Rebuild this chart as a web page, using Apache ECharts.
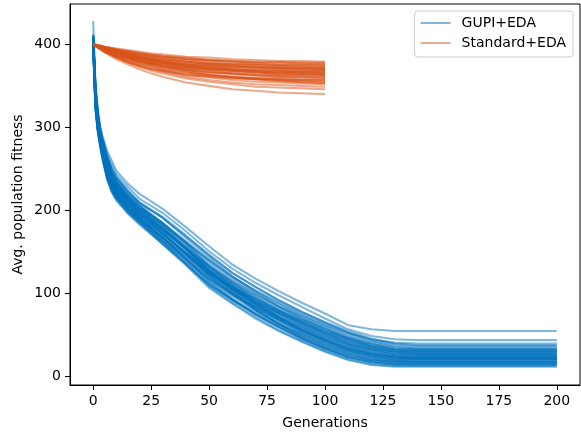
<!DOCTYPE html>
<html>
<head>
<meta charset="utf-8">
<script src="https://cdn.jsdelivr.net/npm/echarts@6/dist/echarts.min.js"></script>
<style>
  html, body { margin: 0; padding: 0; background: #fff; }
  #chart { width: 581px; height: 432px; }
</style>
</head>
<body>
<div id="chart"></div>
<script>
// Generations at which each GUPI+EDA run is sampled
const gupiGenerations = [0, 1, 2, 3, 4, 6, 8, 10, 15, 20, 30, 40, 50, 60, 70, 80, 90, 100, 110, 120, 130, 140, 200];

// Average population fitness of every GUPI+EDA run
const gupiRuns = [
  [428, 352, 322, 302, 290, 272, 260, 248, 232, 220, 202, 180, 157, 135, 118, 103, 89, 76, 62, 57, 55, 55, 55],
  [402, 348, 318, 299, 287, 268, 255, 244, 228, 214, 197, 175, 151, 130, 113, 98, 84, 70, 57, 49, 45, 44, 44],
  [410, 345, 315, 296, 284, 264, 251, 240, 224, 209, 192, 170, 146, 125, 108, 92, 78, 65, 53, 45, 41, 40, 40],
  [399, 323, 296, 279, 264, 239, 224, 214, 198, 185, 159, 134, 107, 88, 70, 55, 42, 30, 20, 14, 12, 12, 12],
  [402, 330, 302, 284, 270, 246, 231, 221, 205, 192, 167, 141, 114, 93, 75, 59, 45, 33, 23, 17, 14, 14, 14],
  [400, 326, 298, 281, 266, 242, 227, 217, 201, 188, 163, 138, 112, 92, 75, 60, 46, 34, 24, 18, 15, 15, 15],
  [405, 335, 306, 288, 274, 252, 236, 226, 210, 197, 173, 148, 121, 99, 80, 64, 49, 37, 27, 20, 18, 17, 17],
  [397, 321, 294, 277, 262, 237, 222, 212, 196, 183, 160, 136, 111, 93, 78, 63, 51, 39, 29, 22, 19, 18, 18],
  [408, 340, 311, 292, 279, 258, 242, 232, 215, 202, 179, 154, 127, 104, 84, 68, 53, 41, 31, 24, 20, 20, 20],
  [401, 328, 301, 283, 269, 245, 230, 220, 203, 190, 167, 144, 119, 99, 83, 68, 55, 43, 32, 25, 22, 21, 21],
  [411, 345, 316, 296, 284, 263, 247, 237, 220, 207, 185, 160, 133, 109, 89, 72, 56, 44, 34, 27, 23, 22, 22],
  [404, 332, 304, 286, 272, 249, 234, 224, 207, 194, 172, 148, 124, 104, 87, 71, 58, 46, 36, 28, 25, 24, 24],
  [399, 325, 297, 280, 265, 241, 226, 216, 200, 187, 164, 142, 119, 101, 86, 72, 60, 48, 38, 30, 26, 25, 25],
  [406, 338, 309, 290, 277, 255, 239, 229, 213, 200, 178, 155, 130, 109, 91, 76, 62, 50, 39, 32, 27, 26, 26],
  [403, 331, 303, 285, 271, 248, 232, 222, 206, 193, 172, 149, 126, 107, 91, 76, 64, 52, 41, 33, 29, 28, 28],
  [409, 343, 313, 294, 281, 260, 245, 235, 218, 205, 184, 161, 136, 114, 96, 80, 65, 53, 43, 35, 30, 29, 29],
  [401, 327, 300, 282, 268, 244, 228, 218, 202, 189, 168, 147, 125, 107, 93, 79, 67, 55, 45, 36, 32, 30, 30],
  [406, 336, 308, 289, 276, 253, 238, 228, 211, 198, 178, 156, 133, 113, 97, 82, 69, 57, 46, 38, 33, 32, 32],
  [412, 348, 318, 298, 286, 266, 250, 240, 223, 210, 191, 167, 144, 121, 102, 85, 71, 59, 48, 40, 34, 33, 33],
  [404, 334, 305, 287, 273, 251, 235, 225, 209, 196, 176, 155, 133, 115, 99, 85, 73, 61, 50, 41, 36, 34, 34],
  [407, 341, 312, 293, 280, 259, 243, 233, 216, 203, 185, 163, 141, 120, 103, 88, 74, 62, 52, 43, 37, 35, 35],
  [407, 339, 310, 291, 278, 256, 241, 231, 214, 201, 182, 161, 140, 120, 104, 89, 76, 64, 53, 44, 39, 37, 37],
  [411, 347, 317, 297, 285, 265, 249, 239, 222, 209, 191, 169, 147, 125, 108, 92, 78, 66, 55, 46, 40, 38, 38],
  [410, 344, 315, 295, 283, 262, 246, 236, 219, 206, 182, 155, 127, 102, 81, 63, 47, 35, 25, 19, 16, 16, 16],
  [406, 337, 308, 290, 276, 254, 239, 228, 212, 199, 176, 152, 126, 105, 87, 70, 56, 44, 34, 27, 23, 22, 22],
  [398, 322, 296, 278, 263, 239, 223, 214, 197, 185, 160, 136, 110, 92, 76, 61, 48, 36, 26, 20, 17, 17, 17],
  [399, 324, 297, 280, 265, 240, 225, 215, 199, 186, 163, 140, 117, 99, 84, 70, 57, 45, 35, 28, 24, 23, 23],
  [400, 325, 298, 280, 266, 241, 226, 216, 200, 187, 162, 136, 109, 89, 72, 56, 43, 31, 21, 15, 13, 13, 13],
  [400, 327, 299, 282, 267, 243, 228, 218, 202, 189, 167, 145, 123, 105, 90, 77, 65, 53, 42, 34, 30, 28, 28],
  [401, 328, 300, 282, 268, 244, 229, 219, 203, 190, 166, 142, 117, 97, 80, 65, 52, 40, 30, 23, 20, 19, 19],
  [402, 329, 301, 283, 269, 246, 230, 220, 204, 191, 170, 149, 127, 109, 94, 80, 68, 56, 46, 37, 32, 31, 31],
  [403, 330, 302, 284, 270, 247, 232, 222, 205, 192, 168, 142, 115, 94, 75, 60, 46, 34, 23, 17, 15, 15, 15],
  [403, 332, 304, 285, 272, 248, 233, 223, 207, 194, 172, 149, 125, 106, 89, 74, 61, 49, 39, 31, 27, 26, 26],
  [404, 333, 305, 287, 273, 250, 235, 225, 208, 195, 172, 147, 122, 101, 83, 68, 54, 42, 32, 25, 21, 21, 21],
  [405, 334, 306, 288, 274, 251, 236, 226, 209, 196, 176, 153, 130, 111, 94, 79, 66, 54, 44, 36, 31, 30, 30],
  [405, 336, 307, 288, 275, 253, 237, 227, 211, 198, 174, 148, 122, 100, 81, 64, 50, 38, 28, 21, 18, 18, 18],
  [407, 338, 309, 290, 277, 255, 240, 230, 213, 200, 178, 154, 129, 108, 89, 73, 59, 47, 37, 29, 25, 24, 24],
  [407, 340, 310, 291, 278, 257, 241, 231, 215, 202, 179, 154, 128, 106, 87, 70, 56, 44, 33, 26, 23, 22, 22],
  [408, 341, 312, 292, 280, 258, 243, 233, 216, 203, 182, 158, 133, 112, 93, 77, 63, 51, 40, 33, 28, 27, 27],
  [409, 342, 313, 294, 281, 260, 244, 234, 217, 204, 185, 162, 139, 117, 100, 84, 70, 58, 47, 39, 34, 32, 32]
];

// Generations at which each Standard+EDA run is sampled
const standardGenerations = [0, 2, 5, 10, 15, 20, 25, 30, 40, 50, 60, 70, 80, 90, 100];

// Average population fitness of every Standard+EDA run
const standardRuns = [
  [400, 399, 397, 395, 393, 391, 389, 388, 385, 384, 382, 381, 380, 380, 379],
  [400, 398, 396, 393, 391, 388, 386, 385, 382, 381, 379, 378, 378, 377, 377],
  [400, 399, 397, 394, 392, 390, 388, 386, 384, 381, 380, 378, 377, 377, 376],
  [400, 398, 395, 391, 388, 385, 383, 381, 379, 377, 376, 376, 375, 375, 375],
  [400, 398, 396, 392, 389, 386, 384, 382, 379, 377, 376, 375, 374, 373, 373],
  [400, 398, 396, 393, 390, 388, 386, 384, 381, 378, 376, 375, 374, 373, 372],
  [400, 397, 394, 389, 385, 382, 380, 378, 375, 374, 373, 372, 371, 371, 371],
  [400, 398, 395, 391, 388, 385, 382, 380, 377, 375, 373, 372, 371, 370, 370],
  [400, 398, 396, 392, 389, 387, 384, 382, 379, 376, 374, 372, 371, 370, 369],
  [400, 398, 395, 391, 387, 384, 381, 379, 376, 373, 371, 370, 369, 368, 368],
  [400, 397, 393, 387, 383, 379, 377, 374, 371, 369, 368, 367, 366, 366, 366],
  [400, 398, 395, 392, 388, 385, 382, 380, 376, 373, 370, 368, 367, 366, 365],
  [400, 398, 394, 389, 385, 382, 379, 376, 372, 370, 368, 366, 365, 365, 364],
  [400, 397, 392, 386, 381, 378, 375, 372, 369, 366, 365, 364, 363, 363, 363],
  [400, 398, 395, 391, 387, 384, 381, 378, 374, 370, 368, 366, 364, 363, 362],
  [400, 397, 394, 388, 384, 380, 377, 374, 370, 366, 364, 362, 361, 361, 360],
  [400, 396, 391, 385, 379, 375, 371, 368, 364, 362, 360, 359, 359, 358, 358],
  [400, 397, 393, 387, 382, 378, 374, 371, 366, 363, 361, 359, 358, 357, 356],
  [400, 398, 394, 389, 384, 380, 377, 374, 368, 364, 361, 359, 357, 355, 354],
  [400, 397, 392, 386, 380, 376, 372, 369, 363, 360, 357, 355, 354, 353, 352],
  [400, 397, 392, 385, 379, 374, 370, 367, 361, 357, 354, 352, 351, 350, 349],
  [400, 396, 391, 384, 378, 373, 368, 365, 359, 355, 352, 349, 348, 347, 346],
  [400, 396, 390, 382, 376, 370, 365, 361, 354, 350, 346, 344, 342, 341, 340],
  [400, 398, 396, 393, 391, 389, 387, 386, 383, 381, 380, 379, 379, 378, 378],
  [400, 399, 397, 394, 391, 389, 387, 385, 382, 380, 378, 377, 375, 375, 374],
  [400, 397, 394, 390, 386, 383, 381, 379, 376, 375, 373, 373, 372, 372, 372],
  [400, 398, 396, 393, 390, 387, 385, 383, 379, 377, 375, 373, 372, 371, 370],
  [400, 397, 393, 388, 384, 381, 378, 376, 373, 371, 370, 369, 368, 368, 368],
  [400, 398, 395, 390, 387, 383, 381, 378, 375, 372, 370, 369, 368, 367, 367],
  [400, 398, 394, 390, 386, 382, 379, 377, 373, 371, 369, 367, 366, 366, 365],
  [400, 398, 395, 391, 387, 384, 381, 379, 374, 371, 369, 367, 365, 364, 363],
  [400, 397, 394, 388, 384, 380, 377, 374, 370, 367, 365, 363, 362, 361, 361],
  [400, 398, 395, 390, 386, 382, 379, 376, 372, 368, 365, 363, 361, 360, 359],
  [400, 396, 391, 384, 378, 374, 370, 368, 363, 361, 359, 358, 358, 357, 357],
  [400, 397, 393, 387, 382, 377, 374, 370, 366, 362, 360, 358, 356, 356, 355],
  [400, 397, 394, 389, 384, 380, 376, 373, 368, 363, 360, 358, 356, 354, 353]
];

const xTicks = [0, 25, 50, 75, 100, 125, 150, 175, 200];
const yTicks = [0, 100, 200, 300, 400];

const FONT = 'DejaVu Sans';
const GUPI_COLOR = 'rgba(0, 114, 189, 0.5)';
const STANDARD_COLOR = 'rgba(217, 83, 25, 0.5)';
const LINE_WIDTH = 2.08;

function runSeries(name, color, generations, runs) {
  return runs.map(function (run) {
    return {
      name: name,
      type: 'line',
      color: color,
      showSymbol: false,
      symbol: 'none',
      silent: true,
      lineStyle: { width: LINE_WIDTH, color: color },
      emphasis: { disabled: true },
      data: generations.map(function (g, i) { return [g, run[i]]; })
    };
  });
}

const chart = echarts.init(document.getElementById('chart'), null, { renderer: 'canvas' });

chart.setOption({
  animation: false,
  backgroundColor: '#ffffff',
  textStyle: { fontFamily: FONT },
  grid: {
    left: 70, top: 4, width: 510, height: 381,
    show: true, borderColor: '#000', borderWidth: 1,
    containLabel: false,
    outerBoundsMode: 'none'
  },
  legend: {
    orient: 'vertical',
    right: 8,
    top: 11,
    selectedMode: false,
    icon: 'rect',
    itemWidth: 30,
    itemHeight: 2,
    itemGap: 6,
    padding: [5, 7, 7, 6],
    backgroundColor: 'rgba(255,255,255,0.8)',
    borderColor: '#cccccc',
    borderWidth: 1,
    borderRadius: 3,
    textStyle: { fontFamily: FONT, fontSize: 14, color: '#000', padding: [0, 0, 0, 6] },
    data: [
      { name: 'GUPI+EDA', itemStyle: { color: GUPI_COLOR } },
      { name: 'Standard+EDA', itemStyle: { color: STANDARD_COLOR } }
    ]
  },
  xAxis: {
    type: 'value',
    min: -10,
    max: 210,
    name: 'Generations',
    nameLocation: 'middle',
    nameGap: 31,
    nameMoveOverlap: false,
    nameTextStyle: { fontFamily: FONT, fontSize: 14, color: '#000' },
    axisLine: { show: true, onZero: false, lineStyle: { color: '#000', width: 1 } },
    axisTick: { show: true, length: 5, lineStyle: { color: '#000', width: 1 }, customValues: xTicks },
    axisLabel: { fontFamily: FONT, fontSize: 14, color: '#000', margin: 9, customValues: xTicks },
    splitLine: { show: false }
  },
  yAxis: {
    type: 'value',
    min: -10,
    max: 448.5,
    name: 'Avg. population fitness',
    nameLocation: 'middle',
    nameGap: 45,
    nameMoveOverlap: false,
    nameRotate: 90,
    nameTextStyle: { fontFamily: FONT, fontSize: 14, color: '#000' },
    axisLine: { show: true, onZero: false, lineStyle: { color: '#000', width: 1 } },
    axisTick: { show: true, length: 5, lineStyle: { color: '#000', width: 1 }, customValues: yTicks },
    axisLabel: { fontFamily: FONT, fontSize: 14, color: '#000', margin: 9, customValues: yTicks },
    splitLine: { show: false }
  },
  series: runSeries('GUPI+EDA', GUPI_COLOR, gupiGenerations, gupiRuns)
    .concat(runSeries('Standard+EDA', STANDARD_COLOR, standardGenerations, standardRuns))
});
</script>
</body>
</html>
